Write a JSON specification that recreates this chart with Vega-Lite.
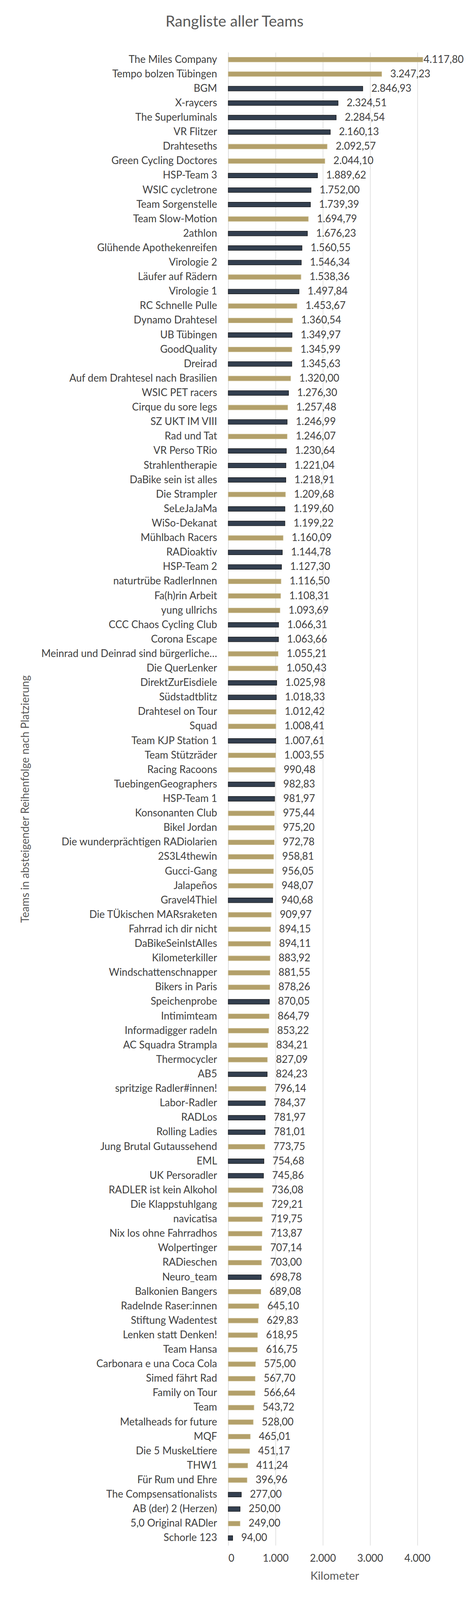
{
  "$schema": "https://vega.github.io/schema/vega-lite/v6.json",
  "autosize": "none",
  "width": 544,
  "height": 3822,
  "padding": {"left": 584, "top": 134, "right": 72, "bottom": 229},
  "background": "white",
  "title": {
    "text": "Rangliste aller Teams",
    "anchor": "middle",
    "frame": "group",
    "dx": -256,
    "offset": 27,
    "baseline": "alphabetic",
    "font": "Lato",
    "fontSize": 39,
    "fontWeight": "normal",
    "color": "#595959"
  },
  "config": {
    "locale": {"number": {"decimal": ",", "thousands": ".", "grouping": [3], "currency": ["", " €"]}},
    "view": {"stroke": null},
    "font": "Lato"
  },
  "data": {
    "values": [
      {"Team": "The Miles Company", "km": 4117.80, "Gruppe": "gold"},
      {"Team": "Tempo bolzen Tübingen", "km": 3247.23, "Gruppe": "gold"},
      {"Team": "BGM", "km": 2846.93, "Gruppe": "dark"},
      {"Team": "X-raycers", "km": 2324.51, "Gruppe": "dark"},
      {"Team": "The Superluminals", "km": 2284.54, "Gruppe": "dark"},
      {"Team": "VR Flitzer", "km": 2160.13, "Gruppe": "dark"},
      {"Team": "Drahteseths", "km": 2092.57, "Gruppe": "gold"},
      {"Team": "Green Cycling Doctores", "km": 2044.10, "Gruppe": "gold"},
      {"Team": "HSP-Team 3", "km": 1889.62, "Gruppe": "dark"},
      {"Team": "WSIC cycletrone", "km": 1752.00, "Gruppe": "dark"},
      {"Team": "Team Sorgenstelle", "km": 1739.39, "Gruppe": "dark"},
      {"Team": "Team Slow-Motion", "km": 1694.79, "Gruppe": "gold"},
      {"Team": "2athlon", "km": 1676.23, "Gruppe": "dark"},
      {"Team": "Glühende Apothekenreifen", "km": 1560.55, "Gruppe": "dark"},
      {"Team": "Virologie 2", "km": 1546.34, "Gruppe": "dark"},
      {"Team": "Läufer auf Rädern", "km": 1538.36, "Gruppe": "gold"},
      {"Team": "Virologie 1", "km": 1497.84, "Gruppe": "dark"},
      {"Team": "RC Schnelle Pulle", "km": 1453.67, "Gruppe": "gold"},
      {"Team": "Dynamo Drahtesel", "km": 1360.54, "Gruppe": "gold"},
      {"Team": "UB Tübingen", "km": 1349.97, "Gruppe": "dark"},
      {"Team": "GoodQuality", "km": 1345.99, "Gruppe": "gold"},
      {"Team": "Dreirad", "km": 1345.63, "Gruppe": "dark"},
      {"Team": "Auf dem Drahtesel nach Brasilien", "km": 1320.00, "Gruppe": "gold"},
      {"Team": "WSIC PET racers", "km": 1276.30, "Gruppe": "dark"},
      {"Team": "Cirque du sore legs", "km": 1257.48, "Gruppe": "gold"},
      {"Team": "SZ UKT IM VIII", "km": 1246.99, "Gruppe": "dark"},
      {"Team": "Rad und Tat", "km": 1246.07, "Gruppe": "gold"},
      {"Team": "VR Perso TRio", "km": 1230.64, "Gruppe": "dark"},
      {"Team": "Strahlentherapie", "km": 1221.04, "Gruppe": "dark"},
      {"Team": "DaBike sein ist alles", "km": 1218.91, "Gruppe": "dark"},
      {"Team": "Die Strampler", "km": 1209.68, "Gruppe": "gold"},
      {"Team": "SeLeJaJaMa", "km": 1199.60, "Gruppe": "dark"},
      {"Team": "WiSo-Dekanat", "km": 1199.22, "Gruppe": "dark"},
      {"Team": "Mühlbach Racers", "km": 1160.09, "Gruppe": "gold"},
      {"Team": "RADioaktiv", "km": 1144.78, "Gruppe": "dark"},
      {"Team": "HSP-Team 2", "km": 1127.30, "Gruppe": "dark"},
      {"Team": "naturtrübe RadlerInnen", "km": 1116.50, "Gruppe": "gold"},
      {"Team": "Fa(h)rin Arbeit", "km": 1108.31, "Gruppe": "gold"},
      {"Team": "yung ullrichs", "km": 1093.69, "Gruppe": "gold"},
      {"Team": "CCC Chaos Cycling Club", "km": 1066.31, "Gruppe": "dark"},
      {"Team": "Corona Escape", "km": 1063.66, "Gruppe": "dark"},
      {"Team": "Meinrad und Deinrad sind bürgerliche…", "km": 1055.21, "Gruppe": "gold"},
      {"Team": "Die QuerLenker", "km": 1050.43, "Gruppe": "gold"},
      {"Team": "DirektZurEisdiele", "km": 1025.98, "Gruppe": "dark"},
      {"Team": "Südstadtblitz", "km": 1018.33, "Gruppe": "dark"},
      {"Team": "Drahtesel on Tour", "km": 1012.42, "Gruppe": "gold"},
      {"Team": "Squad", "km": 1008.41, "Gruppe": "gold"},
      {"Team": "Team KJP Station 1", "km": 1007.61, "Gruppe": "dark"},
      {"Team": "Team Stützräder", "km": 1003.55, "Gruppe": "gold"},
      {"Team": "Racing Racoons", "km": 990.48, "Gruppe": "gold"},
      {"Team": "TuebingenGeographers", "km": 982.83, "Gruppe": "dark"},
      {"Team": "HSP-Team 1", "km": 981.97, "Gruppe": "dark"},
      {"Team": "Konsonanten Club", "km": 975.44, "Gruppe": "gold"},
      {"Team": "Bikel Jordan", "km": 975.20, "Gruppe": "gold"},
      {"Team": "Die wunderprächtigen RADiolarien", "km": 972.78, "Gruppe": "gold"},
      {"Team": "2S3L4thewin", "km": 958.81, "Gruppe": "gold"},
      {"Team": "Gucci-Gang", "km": 956.05, "Gruppe": "gold"},
      {"Team": "Jalapeños", "km": 948.07, "Gruppe": "gold"},
      {"Team": "Gravel4Thiel", "km": 940.68, "Gruppe": "dark"},
      {"Team": "Die TÜkischen MARsraketen", "km": 909.97, "Gruppe": "gold"},
      {"Team": "Fahrrad ich dir nicht", "km": 894.15, "Gruppe": "gold"},
      {"Team": "DaBikeSeinIstAlles", "km": 894.11, "Gruppe": "gold"},
      {"Team": "Kilometerkiller", "km": 883.92, "Gruppe": "gold"},
      {"Team": "Windschattenschnapper", "km": 881.55, "Gruppe": "gold"},
      {"Team": "Bikers in Paris", "km": 878.26, "Gruppe": "gold"},
      {"Team": "Speichenprobe", "km": 870.05, "Gruppe": "dark"},
      {"Team": "Intimimteam", "km": 864.79, "Gruppe": "gold"},
      {"Team": "Informadigger radeln", "km": 853.22, "Gruppe": "gold"},
      {"Team": "AC Squadra Strampla", "km": 834.21, "Gruppe": "gold"},
      {"Team": "Thermocycler", "km": 827.09, "Gruppe": "gold"},
      {"Team": "AB5", "km": 824.23, "Gruppe": "dark"},
      {"Team": "spritzige Radler#innen!", "km": 796.14, "Gruppe": "gold"},
      {"Team": "Labor-Radler", "km": 784.37, "Gruppe": "dark"},
      {"Team": "RADLos", "km": 781.97, "Gruppe": "dark"},
      {"Team": "Rolling Ladies", "km": 781.01, "Gruppe": "dark"},
      {"Team": "Jung Brutal Gutaussehend", "km": 773.75, "Gruppe": "gold"},
      {"Team": "EML", "km": 754.68, "Gruppe": "dark"},
      {"Team": "UK Persoradler", "km": 745.86, "Gruppe": "dark"},
      {"Team": "RADLER ist kein Alkohol", "km": 736.08, "Gruppe": "gold"},
      {"Team": "Die Klappstuhlgang", "km": 729.21, "Gruppe": "gold"},
      {"Team": "navicatisa", "km": 719.75, "Gruppe": "gold"},
      {"Team": "Nix los ohne Fahrradhos", "km": 713.87, "Gruppe": "gold"},
      {"Team": "Wolpertinger", "km": 707.14, "Gruppe": "gold"},
      {"Team": "RADieschen", "km": 703.00, "Gruppe": "gold"},
      {"Team": "Neuro_team", "km": 698.78, "Gruppe": "dark"},
      {"Team": "Balkonien Bangers", "km": 689.08, "Gruppe": "gold"},
      {"Team": "Radelnde Raser:innen", "km": 645.10, "Gruppe": "gold"},
      {"Team": "Stiftung Wadentest", "km": 629.83, "Gruppe": "gold"},
      {"Team": "Lenken statt Denken!", "km": 618.95, "Gruppe": "gold"},
      {"Team": "Team Hansa", "km": 616.75, "Gruppe": "gold"},
      {"Team": "Carbonara e una Coca Cola", "km": 575.00, "Gruppe": "gold"},
      {"Team": "Simed fährt Rad", "km": 567.70, "Gruppe": "gold"},
      {"Team": "Family on Tour", "km": 566.64, "Gruppe": "gold"},
      {"Team": "Team", "km": 543.72, "Gruppe": "gold"},
      {"Team": "Metalheads for future", "km": 528.00, "Gruppe": "gold"},
      {"Team": "MQF", "km": 465.01, "Gruppe": "gold"},
      {"Team": "Die 5 MuskeLtiere", "km": 451.17, "Gruppe": "gold"},
      {"Team": "THW1", "km": 411.24, "Gruppe": "gold"},
      {"Team": "Für Rum und Ehre", "km": 396.96, "Gruppe": "gold"},
      {"Team": "The Compsensationalists", "km": 277.00, "Gruppe": "dark"},
      {"Team": "AB (der) 2 (Herzen)", "km": 250.00, "Gruppe": "dark"},
      {"Team": "5,0 Original RADler", "km": 249.00, "Gruppe": "gold"},
      {"Team": "Schorle 123", "km": 94.00, "Gruppe": "dark"}
    ]
  },
  "encoding": {
    "y": {
      "field": "Team",
      "type": "nominal",
      "sort": null,
      "scale": {"paddingInner": 0.675, "paddingOuter": 0.3375},
      "axis": {
        "title": "Teams in absteigender Reihenfolge nach Platzierung",
        "titleFont": "Lato",
        "titleFontSize": 28,
        "titleFontWeight": "normal",
        "titleColor": "#595959",
        "titleAngle": -90,
        "titleAlign": "center",
        "titleBaseline": "middle",
        "titleX": -519,
        "titleY": 1911,
        "labelFont": "Lato",
        "labelFontSize": 26,
        "labelColor": "#404040",
        "labelLimit": 700,
        "labelPadding": 29,
        "ticks": false,
        "domain": true,
        "domainColor": "#D9D9D9",
        "domainWidth": 1.5
      }
    },
    "x": {
      "field": "km",
      "type": "quantitative",
      "scale": {"domain": [0, 4500], "nice": false},
      "axis": {
        "title": "Kilometer",
        "titleFont": "Lato",
        "titleFontSize": 29,
        "titleFontWeight": "normal",
        "titleColor": "#595959",
        "titlePadding": 18,
        "values": [0, 1000, 2000, 3000, 4000],
        "format": ",d",
        "labelFont": "Lato",
        "labelFontSize": 26,
        "labelColor": "#404040",
        "labelPadding": 20,
        "ticks": false,
        "domain": false,
        "grid": true,
        "gridColor": "#D9D9D9",
        "gridWidth": 1.5
      }
    }
  },
  "layer": [
    {
      "mark": {"type": "bar", "strokeWidth": 1.2},
      "encoding": {
        "color": {
          "field": "Gruppe",
          "type": "nominal",
          "legend": null,
          "scale": {"domain": ["gold", "dark"], "range": ["#B3A06A", "#333F4F"]}
        },
        "stroke": {
          "field": "Gruppe",
          "type": "nominal",
          "legend": null,
          "scale": {"domain": ["gold", "dark"], "range": ["#C8BA8E", "#111111"]}
        }
      }
    },
    {
      "transform": [{"filter": "datum.km < 4000"}],
      "mark": {"type": "text", "align": "left", "baseline": "middle", "dx": 22, "font": "Lato", "fontSize": 26, "color": "#404040"},
      "encoding": {
        "text": {"field": "km", "type": "quantitative", "format": ",.2f"}
      }
    },
    {
      "transform": [{"filter": "datum.km >= 4000"}],
      "mark": {"type": "text", "align": "left", "baseline": "middle", "dx": 2, "font": "Lato", "fontSize": 26, "color": "#404040"},
      "encoding": {
        "text": {"field": "km", "type": "quantitative", "format": ",.2f"}
      }
    }
  ]
}
